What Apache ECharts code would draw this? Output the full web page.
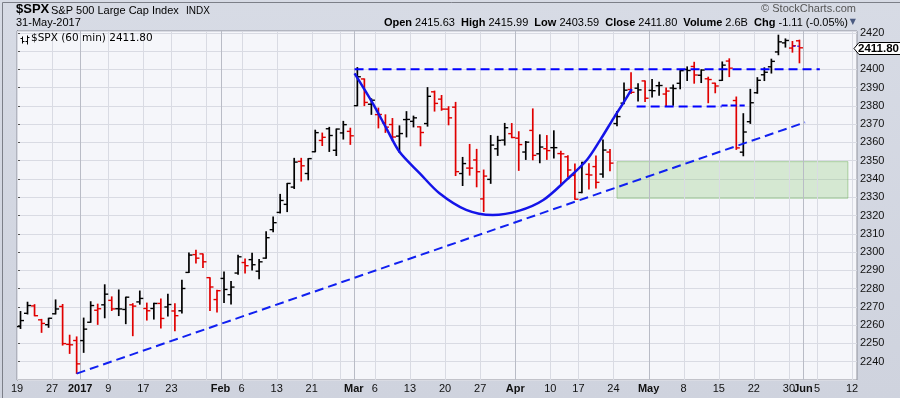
<!DOCTYPE html>
<html>
<head>
<meta charset="utf-8">
<script src="https://cdn.jsdelivr.net/npm/echarts@6/dist/echarts.min.js"></script>
<style>
  html, body { margin: 0; padding: 0; background: #d3d7e1; }
  #chart { width: 900px; height: 398px; }
</style>
</head>
<body>
<div id="chart"></div>
<script>
// trading days shown on the x axis (bars end May 31, axis runs on to Jun 12)
const days = [
  "2016-12-19","2016-12-20","2016-12-21","2016-12-22","2016-12-23","2016-12-27","2016-12-28","2016-12-29","2016-12-30",
  "2017-01-03","2017-01-04","2017-01-05","2017-01-06","2017-01-09","2017-01-10","2017-01-11","2017-01-12","2017-01-13",
  "2017-01-17","2017-01-18","2017-01-19","2017-01-20","2017-01-23","2017-01-24","2017-01-25","2017-01-26","2017-01-27",
  "2017-01-30","2017-01-31","2017-02-01","2017-02-02","2017-02-03","2017-02-06","2017-02-07","2017-02-08","2017-02-09",
  "2017-02-10","2017-02-13","2017-02-14","2017-02-15","2017-02-16","2017-02-17","2017-02-21","2017-02-22","2017-02-23",
  "2017-02-24","2017-02-27","2017-02-28","2017-03-01","2017-03-02","2017-03-03","2017-03-06","2017-03-07","2017-03-08",
  "2017-03-09","2017-03-10","2017-03-13","2017-03-14","2017-03-15","2017-03-16","2017-03-17","2017-03-20","2017-03-21",
  "2017-03-22","2017-03-23","2017-03-24","2017-03-27","2017-03-28","2017-03-29","2017-03-30","2017-03-31","2017-04-03",
  "2017-04-04","2017-04-05","2017-04-06","2017-04-07","2017-04-10","2017-04-11","2017-04-12","2017-04-13","2017-04-17",
  "2017-04-18","2017-04-19","2017-04-20","2017-04-21","2017-04-24","2017-04-25","2017-04-26","2017-04-27","2017-04-28",
  "2017-05-01","2017-05-02","2017-05-03","2017-05-04","2017-05-05","2017-05-08","2017-05-09","2017-05-10","2017-05-11",
  "2017-05-12","2017-05-15","2017-05-16","2017-05-17","2017-05-18","2017-05-19","2017-05-22","2017-05-23","2017-05-24",
  "2017-05-25","2017-05-26","2017-05-30","2017-05-31",
  "2017-06-01","2017-06-02","2017-06-05","2017-06-06","2017-06-07","2017-06-08","2017-06-09","2017-06-12"
];

const opens = [
  2259.24,2266.50,2270.54,2262.93,2260.25,2266.23,2270.23,2249.50,2251.61,
  2251.57,2261.60,2268.18,2271.14,2273.59,2269.00,2268.60,2271.14,2272.74,
  2269.14,2269.14,2271.90,2269.96,2267.78,2267.88,2288.88,2298.63,2299.02,
  2286.01,2274.02,2285.59,2276.69,2288.54,2294.28,2295.87,2289.55,2296.70,
  2312.27,2321.72,2326.12,2335.58,2349.64,2343.01,2354.91,2361.11,2367.50,
  2355.73,2365.23,2366.08,2380.13,2394.75,2380.92,2375.23,2370.74,2369.81,
  2363.49,2372.52,2371.56,2368.55,2370.34,2387.71,2383.71,2378.24,2379.32,
  2343.00,2345.97,2350.42,2329.11,2339.79,2356.54,2361.31,2364.82,2362.34,
  2354.76,2366.59,2353.79,2356.59,2357.16,2353.92,2352.15,2341.98,2332.62,
  2342.53,2346.79,2342.69,2354.74,2370.33,2381.51,2388.98,2389.70,2393.68,
  2388.50,2391.05,2386.50,2389.79,2392.37,2399.94,2401.58,2396.79,2394.84,
  2392.44,2393.98,2404.55,2382.95,2354.69,2371.37,2387.21,2397.04,2401.41,
  2409.54,2414.50,2411.67,2415.63
];
const highs = [
  2267.47,2272.56,2271.23,2263.18,2263.79,2273.82,2271.31,2254.51,2253.58,
  2263.88,2272.82,2271.50,2282.10,2275.49,2279.27,2275.32,2271.78,2278.68,
  2272.08,2272.01,2274.33,2276.96,2271.78,2284.63,2299.55,2300.99,2299.02,
  2286.01,2279.09,2289.14,2283.97,2298.31,2296.18,2299.40,2295.91,2311.08,
  2319.23,2331.58,2337.58,2351.30,2351.31,2351.16,2366.71,2365.13,2368.26,
  2367.34,2371.54,2367.79,2400.98,2394.75,2383.89,2378.80,2375.12,2373.09,
  2369.08,2376.86,2374.42,2368.55,2390.01,2388.10,2385.71,2379.55,2381.93,
  2351.81,2358.92,2356.22,2344.90,2363.78,2363.36,2370.42,2370.35,2365.87,
  2360.53,2378.36,2364.16,2363.76,2366.37,2355.22,2352.72,2348.26,2349.14,
  2348.35,2352.63,2361.37,2356.18,2376.98,2392.48,2398.16,2392.10,2393.68,
  2394.49,2392.93,2389.82,2391.43,2399.29,2401.36,2403.87,2399.74,2395.72,
  2392.44,2404.05,2405.77,2384.87,2375.74,2389.06,2395.46,2400.85,2405.58,
  2418.71,2416.68,2415.26,2415.99
];
const lows = [
  2258.21,2266.14,2265.15,2256.08,2258.84,2266.15,2249.11,2244.56,2233.62,
  2245.13,2261.60,2260.45,2264.06,2268.04,2265.27,2260.83,2254.25,2271.51,
  2262.81,2263.35,2258.41,2265.01,2257.02,2266.68,2288.88,2294.08,2291.62,
  2268.04,2267.21,2272.44,2271.65,2287.88,2288.57,2290.16,2285.38,2296.61,
  2311.10,2321.42,2322.17,2334.81,2338.87,2339.58,2354.91,2358.34,2355.09,
  2352.87,2361.87,2358.96,2380.13,2380.17,2375.39,2367.98,2365.51,2361.01,
  2354.54,2363.04,2368.52,2358.18,2368.94,2377.18,2377.64,2369.66,2341.90,
  2336.45,2342.13,2335.74,2322.25,2337.63,2352.94,2358.58,2362.60,2344.73,
  2350.72,2350.52,2348.90,2350.74,2351.50,2337.25,2341.18,2328.95,2332.51,
  2334.54,2335.05,2340.91,2344.51,2369.19,2381.15,2386.78,2382.68,2382.36,
  2384.83,2385.82,2379.75,2380.35,2389.38,2393.92,2392.44,2392.79,2381.74,
  2387.19,2393.94,2396.05,2356.21,2352.72,2370.43,2386.92,2393.88,2397.99,
  2408.01,2412.20,2409.43,2403.59
];
const closes = [
  2262.53,2270.76,2265.18,2260.96,2263.79,2268.88,2249.92,2249.26,2238.83,
  2257.83,2270.75,2269.00,2276.98,2268.90,2268.90,2275.32,2270.44,2274.64,
  2267.89,2271.89,2263.69,2271.31,2265.20,2280.07,2298.37,2296.68,2294.69,
  2280.90,2278.87,2279.55,2280.85,2297.42,2292.56,2293.08,2294.67,2307.87,
  2316.10,2328.25,2337.58,2349.25,2347.22,2351.16,2365.38,2362.82,2363.81,
  2367.34,2369.75,2363.64,2395.96,2381.92,2383.12,2375.31,2368.39,2362.98,
  2364.87,2372.60,2373.47,2365.45,2385.26,2381.38,2378.25,2373.47,2344.02,
  2348.45,2345.96,2343.98,2341.59,2358.57,2361.13,2368.06,2362.72,2358.84,
  2360.16,2352.95,2357.49,2355.54,2357.16,2353.78,2344.93,2328.95,2349.01,
  2342.19,2338.17,2355.84,2348.69,2374.15,2388.61,2387.45,2388.77,2384.20,
  2388.33,2391.17,2388.13,2389.52,2399.29,2399.38,2396.92,2399.63,2394.44,
  2390.90,2402.32,2400.67,2357.03,2365.72,2381.73,2394.02,2398.42,2404.39,
  2415.07,2415.82,2412.91,2411.80
];
const volumeText = "2.6B";

// x axis: day index where each label / gridline sits
const xTickDays = [0,5,9,13,18,22,29,32,37,42,48,51,56,61,66,71,76,80,85,90,95,100,105,110,112,114,119];
const xTickLabels = ["19","27","2017","9","17","23","Feb","6","13","21","Mar","6","13","20","27","Apr","10","17","24","May","8","15","22","30","Jun","5","12"];
const weekLines = [0,5,9,13,18,22,27,32,37,42,46,51,56,61,66,71,76,80,85,90,95,100,105,110,114,119];
const monthLines = [9,29,48,71,90,112];

// drawn annotations, [day index, price]
const trendLine = [[8.5, 2233.5], [112.3, 2371]];
const resistanceLine = [[48.1, 2400], [114.4, 2400]];
const handleLine = [[88.3, 2379.7], [100.4, 2379.7]];
const handleLine2 = [[100.4, 2380.2], [103.7, 2380.2]];
const lastMark = [[110.6, 2412.7], [111.7, 2412.7]];
const cupCurve = [
  [48.1, 2397.8], [50.7, 2381.4], [52.6, 2368], [54.5, 2354.9], [57.4, 2343.1], [60.2, 2332.2],
  [64.0, 2323.1], [67.8, 2320.3], [71.6, 2322.7], [75.0, 2328.5], [78.3, 2339.5], [81.2, 2350.4],
  [83.1, 2361.3], [85.0, 2373.2], [86.3, 2381], [87.6, 2389.2]
];
const supportZone = [[85.5, 2349.5], [118.4, 2329.5]];

const last = closes.length - 1;
const chg = closes[last] - closes[last - 1];
const chgPct = chg / closes[last - 1] * 100;

const barData = opens.map((o, i) => [i + 0.5, o, highs[i], lows[i], closes[i], i > 0 && closes[i] < closes[i - 1] ? 1 : 0]);

let mychart = echarts.init(document.getElementById("chart"));

function renderBar(params, api) {
  const x = api.value(0);
  const o = api.coord([x, api.value(1)]);
  const h = api.coord([x, api.value(2)]);
  const l = api.coord([x, api.value(3)]);
  const c = api.coord([x, api.value(4)]);
  const color = api.value(5) ? "#e00000" : "#000000";
  const half = api.size([1, 0])[0] * 0.5;
  return {
    type: "group",
    children: [
      { type: "line", shape: { x1: h[0], y1: h[1] - 0.5, x2: l[0], y2: l[1] + 0.5 }, style: { stroke: color, lineWidth: 1.7 } },
      { type: "line", shape: { x1: o[0] - half, y1: o[1], x2: o[0], y2: o[1] }, style: { stroke: color, lineWidth: 1.4 } },
      { type: "line", shape: { x1: c[0], y1: c[1], x2: c[0] + half, y2: c[1] }, style: { stroke: color, lineWidth: 1.4 } }
    ]
  };
}

function renderGridLine(params, api) {
  const cs = params.coordSys;
  const p = api.coord([api.value(0), 2300]);
  const x = Math.round(p[0]) + 0.5;
  return {
    type: "line",
    shape: { x1: x, y1: cs.y, x2: x, y2: cs.y + cs.height },
    style: { stroke: api.value(2) ? "#b9bcc6" : "#d9dbe3", lineWidth: 1 }
  };
}

function renderTag(params, api) {
  const p = api.coord([api.value(0), api.value(1)]);
  const x0 = p[0] - 3;
  const y = Math.round(p[1]) + 0.5;
  return {
    type: "group",
    children: [
      {
        type: "polygon",
        shape: { points: [[x0, y], [x0 + 5, y - 6], [x0 + 48, y - 6], [x0 + 48, y + 6], [x0 + 5, y + 6]] },
        style: { fill: "#ffffff", stroke: "#000000", lineWidth: 1 }
      },
      {
        type: "text",
        x: x0 + 24.5, y: y + 0.5,
        style: { text: api.value(1).toFixed(2), fill: "#000", font: "bold 11.5px 'Liberation Sans', Arial", align: "center", verticalAlign: "middle" }
      }
    ]
  };
}

const gridLineData = [];
weekLines.forEach(d => { if (!monthLines.includes(d)) gridLineData.push([d, 2300, 0]); });
monthLines.forEach(d => gridLineData.push([d, 2300, 1]));

const blue = "#0000ff";
const dash = [9, 5];

let option = {
  animation: false,
  backgroundColor: {
    type: "linear", x: 0, y: 0, x2: 0, y2: 1,
    colorStops: [{ offset: 0, color: "#d7dbe5" }, { offset: 1, color: "#cfd3de" }]
  },
  textStyle: { fontFamily: "'Liberation Sans', Arial, sans-serif" },
  grid: {
    left: 17, right: 43, top: 31, bottom: 18,
    show: true, backgroundColor: "#f5f6fa", borderColor: "#8e919b", borderWidth: 1
  },
  graphic: [
    { type: "rect", left: 0, top: 0, shape: { width: 899, height: 397 }, style: { fill: "none", stroke: "#7c7f88", lineWidth: 1 }, silent: true },
    { type: "text", left: 16, top: 3, style: { text: "$SPX", font: "bold 13px 'Liberation Sans', Arial", fill: "#000" } },
    { type: "text", left: 51, top: 5, style: { text: "S&P 500 Large Cap Index", font: "11px 'Liberation Sans', Arial", fill: "#000" } },
    { type: "text", left: 186, top: 6, style: { text: "INDX", font: "10px 'Liberation Sans', Arial", fill: "#000" } },
    { type: "text", left: 16, top: 17, style: { text: "31-May-2017", font: "11px 'Liberation Sans', Arial", fill: "#000" } },
    { type: "text", right: 44, top: 3, style: { text: "\u00a9 StockCharts.com", font: "11px 'Liberation Sans', Arial", fill: "#555" } },
    {
      type: "text", right: 52, top: 17,
      style: {
        text: "{b|Open} " + opens[last].toFixed(2) + "  {b|High} " + highs[last].toFixed(2) +
          "  {b|Low} " + lows[last].toFixed(2) + "  {b|Close} " + closes[last].toFixed(2) +
          "  {b|Volume} " + volumeText + "  {b|Chg} " + chg.toFixed(2) + " (" + chgPct.toFixed(2) + "%)",
        font: "11px 'Liberation Sans', Arial", fill: "#000",
        rich: { b: { font: "bold 11px 'Liberation Sans', Arial", fill: "#000" } }
      }
    },
    { type: "text", right: 44, top: 18, style: { text: "\u25bc", font: "8px 'DejaVu Sans'", fill: "#4a5a80" } },
    {
      type: "group", left: 18, top: 33, z: 20,
      children: [
        { type: "line", shape: { x1: 2, y1: 1, x2: 2, y2: 8 }, style: { stroke: "#000", lineWidth: 1 } },
        { type: "line", shape: { x1: 0, y1: 3, x2: 2, y2: 3 }, style: { stroke: "#000", lineWidth: 1 } },
        { type: "line", shape: { x1: 2, y1: 6, x2: 4, y2: 6 }, style: { stroke: "#000", lineWidth: 1 } },
        { type: "line", shape: { x1: 7, y1: 0, x2: 7, y2: 9 }, style: { stroke: "#000", lineWidth: 1 } },
        { type: "line", shape: { x1: 5, y1: 6, x2: 7, y2: 6 }, style: { stroke: "#000", lineWidth: 1 } },
        { type: "line", shape: { x1: 7, y1: 2, x2: 9, y2: 2 }, style: { stroke: "#000", lineWidth: 1 } }
      ]
    },
    { type: "text", left: 31, top: 33, z: 20, style: { text: "$SPX (60 min) " + closes[last].toFixed(2), font: "10.5px 'DejaVu Sans'", fill: "#000" } }
  ],
  xAxis: {
    type: "value",
    min: 0,
    max: 119.7,
    axisLine: { show: false },
    axisTick: { show: false, customValues: xTickDays },
    splitLine: { show: false },
    axisLabel: {
      customValues: xTickDays,
      margin: 3,
      fontSize: 11,
      color: "#111",
      formatter: function (v) {
        const k = xTickDays.indexOf(Math.round(v));
        if (k < 0) return "";
        const t = xTickLabels[k];
        return monthLines.includes(xTickDays[k]) ? "{b|" + t + "}" : t;
      },
      rich: { b: { fontWeight: "bold", fontSize: 11, color: "#111" } }
    }
  },
  yAxis: {
    type: "value",
    position: "right",
    min: 2230,
    max: 2421,
    interval: 10,
    axisLine: { show: true, lineStyle: { color: "#666", type: "dotted" } },
    axisTick: { show: true, length: 3, lineStyle: { color: "#555" } },
    axisLabel: {
      color: "#111",
      fontSize: 11,
      margin: 3,
      showMinLabel: false,
      showMaxLabel: false,
      formatter: v => (v % 10 === 0 ? String(v) : "")
    },
    splitLine: { lineStyle: { color: "#d9dbe3" } }
  },
  series: [
    {
      type: "custom",
      name: "grid",
      silent: true,
      z: 1,
      renderItem: renderGridLine,
      encode: { x: 0, y: 1 },
      data: gridLineData
    },
    {
      type: "custom",
      name: "$SPX",
      z: 3,
      renderItem: renderBar,
      encode: { x: 0, y: [1, 2, 3, 4] },
      data: barData
    },
    {
      type: "line",
      name: "trend",
      z: 4,
      data: trendLine,
      showSymbol: false,
      lineStyle: { color: "#1020f0", width: 2, type: dash }
    },
    {
      type: "line",
      name: "resistance",
      z: 4,
      data: resistanceLine,
      showSymbol: false,
      lineStyle: { color: blue, width: 2, type: dash }
    },
    {
      type: "line",
      name: "handle",
      z: 4,
      data: handleLine,
      showSymbol: false,
      lineStyle: { color: blue, width: 2, type: dash }
    },
    {
      type: "line",
      name: "handle2",
      z: 4,
      data: handleLine2,
      showSymbol: false,
      lineStyle: { color: blue, width: 2, type: [6, 3] }
    },
    {
      type: "line",
      name: "lastMark",
      z: 4,
      data: lastMark,
      showSymbol: false,
      lineStyle: { color: blue, width: 1, type: [2, 2] }
    },
    {
      type: "line",
      name: "cup",
      z: 4,
      data: cupCurve,
      smooth: 0.3,
      showSymbol: false,
      lineStyle: { color: "#1414e8", width: 2.5 }
    },
    {
      type: "line",
      name: "zone",
      z: 5,
      data: [],
      markArea: {
        silent: true,
        itemStyle: { color: "rgba(140,200,120,0.30)", borderColor: "rgba(120,180,100,0.55)", borderWidth: 1 },
        data: [[{ coord: supportZone[0] }, { coord: supportZone[1] }]]
      }
    },
    {
      type: "custom",
      name: "lastTag",
      z: 10,
      clip: false,
      renderItem: renderTag,
      encode: { x: 0, y: 1 },
      data: [[119.7, closes[last]]]
    }
  ]
};

mychart.setOption(option);
window.addEventListener("resize", () => {
  mychart.resize();
});
</script>
</body>
</html>
